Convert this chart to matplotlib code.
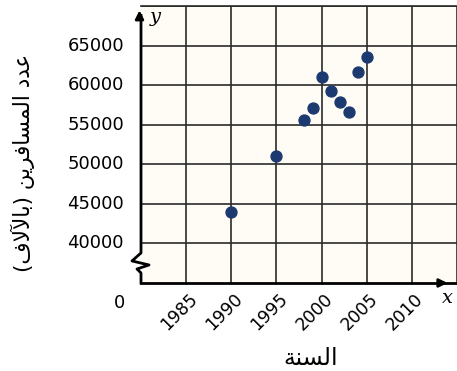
import matplotlib
matplotlib.use('Agg')
import matplotlib.pyplot as plt

# data
years = [1990, 1995, 1998, 1999, 2000, 2001, 2002, 2003, 2004, 2005]
passengers = [44000, 51100, 55600, 57100, 61000, 59200, 57900, 56600, 61600, 63500]
x_ticks = [1985, 1990, 1995, 2000, 2005, 2010]
y_ticks = [40000, 45000, 50000, 55000, 60000, 65000]
y_label = 'عدد المسافرين (بالآلاف)'
x_label = 'السنة'

# --- minimal arabic shaping (matplotlib does no shaping / bidi) ---
FORMS = {  # iso, final, initial, medial
    'ا': ('\ufe8d', '\ufe8e', None, None),
    'آ': ('\ufe81', '\ufe82', None, None),
    'د': ('\ufea9', '\ufeaa', None, None),
    'ر': ('\ufead', '\ufeae', None, None),
    'ة': ('\ufe93', '\ufe94', None, None),
    'ب': ('\ufe8f', '\ufe90', '\ufe91', '\ufe92'),
    'س': ('\ufeb1', '\ufeb2', '\ufeb3', '\ufeb4'),
    'ع': ('\ufec9', '\ufeca', '\ufecb', '\ufecc'),
    'ف': ('\ufed1', '\ufed2', '\ufed3', '\ufed4'),
    'ل': ('\ufedd', '\ufede', '\ufedf', '\ufee0'),
    'م': ('\ufee1', '\ufee2', '\ufee3', '\ufee4'),
    'ن': ('\ufee5', '\ufee6', '\ufee7', '\ufee8'),
    'ي': ('\ufef1', '\ufef2', '\ufef3', '\ufef4'),
}
LAM_ALEF = {'ا': ('\ufefb', '\ufefc'), 'آ': ('\ufef5', '\ufef6')}


def shape(text):
    chars = list(text)
    out = []
    i = 0
    while i < len(chars):
        c = chars[i]
        prev = chars[i - 1] if i > 0 else ''
        prev_joins = prev in FORMS and FORMS[prev][2] is not None
        if c not in FORMS:
            out.append(c)
            i += 1
            continue
        if c == 'ل' and i + 1 < len(chars) and chars[i + 1] in LAM_ALEF:
            out.append(LAM_ALEF[chars[i + 1]][1 if prev_joins else 0])
            i += 2
            continue
        nxt = chars[i + 1] if i + 1 < len(chars) else ''
        next_joins = nxt in FORMS and FORMS[c][2] is not None
        iso, fin, ini, med = FORMS[c]
        if prev_joins and next_joins:
            out.append(med)
        elif next_joins:
            out.append(ini)
        elif prev_joins:
            out.append(fin)
        else:
            out.append(iso)
        i += 1
    vis = ''.join(reversed(out))
    return vis.translate(str.maketrans('()', ')('))


W, H = 457, 371
fig = plt.figure(figsize=(W / 100, H / 100), dpi=100)
left, right, bottom, top = 141, 457, 283, 6
ax = fig.add_axes([left / W, (H - bottom) / H, (right - left) / W, (bottom - top) / H])
ax.set_facecolor('#fefcf4')
ax.set_xlim(1980, 2015)
ax.set_ylim(35000, 70000)

ax.set_xticks(x_ticks + [2015])
ax.set_yticks(y_ticks + [70000])
ax.grid(True, color='#2a2a2a', linewidth=1.2)
ax.tick_params(length=0, labelbottom=False, labelleft=False)
for side in ['left', 'right']:
    ax.spines[side].set_visible(False)
ax.spines['top'].set_linewidth(1.2)
ax.spines['top'].set_color('#2a2a2a')
ax.spines['bottom'].set_linewidth(2)

ax.scatter(years, passengers, s=62, color='#1d3a70', zorder=5, clip_on=False)

font = 'DejaVu Sans'
px_x = lambda p: 1980 + (p - left) / 45.1 * 5
px_y = lambda p: 35000 + (bottom - p) / 39.5 * 5000

for yv in y_ticks:
    ax.text(px_x(124), yv, f'{yv}', ha='right', va='center',
            fontsize=13, family=font, clip_on=False)
ax.text(px_x(120), px_y(303), '0', ha='center', va='center',
        fontsize=13, family=font, clip_on=False)

for xv in x_ticks:
    ax.annotate(f'{xv}', xy=(xv, 0), xycoords=('data', 'axes fraction'),
                xytext=(-7, -29), textcoords='offset pixels', rotation=45,
                ha='center', va='center', fontsize=12.5, family=font)

# y axis with the break, and arrows
zig = [(141, 16), (141, 253), (132, 261), (149, 265), (137, 269), (141, 273), (141, 283)]
ax.plot([px_x(a) for a, b in zig], [px_y(b) for a, b in zig], color='black',
        linewidth=2, clip_on=False, zorder=6)
ax.annotate('', xy=(px_x(139.5), px_y(8)), xytext=(px_x(139.5), px_y(20)),
            arrowprops=dict(arrowstyle='-|>', color='black', lw=2, mutation_scale=12),
            annotation_clip=False)
ax.annotate('', xy=(px_x(450), px_y(283)), xytext=(px_x(436), px_y(283)),
            arrowprops=dict(arrowstyle='-|>', color='black', lw=2, mutation_scale=12),
            annotation_clip=False)

ax.text(px_x(155), px_y(17), 'y', ha='center', va='center', fontsize=14,
        family='DejaVu Serif', style='italic', clip_on=False)
fig.text(447 / W, 1 - 298 / H, 'x', ha='center', va='center', fontsize=14,
         family='DejaVu Serif', style='italic')

fig.text(23 / W, 1 - 163 / H, shape(y_label), rotation=90, ha='center', va='center',
         fontsize=15.5, family=font)
fig.text(311 / W, 1 - 358 / H, shape(x_label), ha='center', va='center',
         fontsize=17, family=font)

fig.savefig('out.png', dpi=100, facecolor='white')
